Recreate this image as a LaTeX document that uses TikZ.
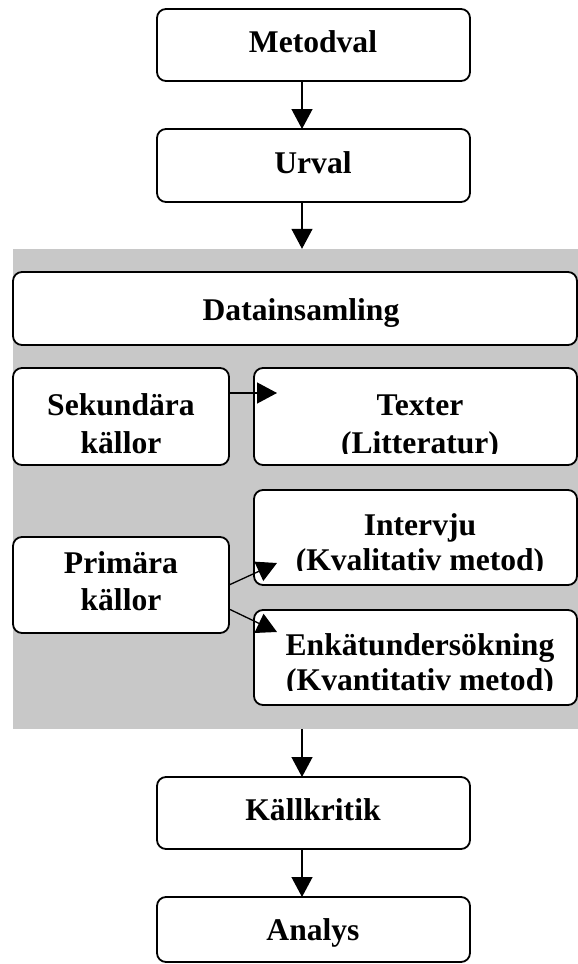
\documentclass[tikz,border=0pt]{standalone}
\usepackage{fontspec}
\setmainfont{Liberation Serif}
\usetikzlibrary{arrows.meta,calc}
\definecolor{bggray}{RGB}{200,200,200}
\tikzset{
  box/.style={draw=black, line width=1.8pt, rounded corners=9pt, fill=white, inner sep=0pt, outer sep=0pt},
  lbl/.style={font=\fontsize{31.6}{36}\selectfont\bfseries, inner sep=0pt, anchor=base},
  arr/.style={line width=1.3pt, -{Triangle[length=20pt,width=21pt]}},
}
\begin{document}
\begin{tikzpicture}[x=1pt,y=-1pt]
\useasboundingbox (0,0) rectangle (578,964);
\fill[white] (0,0) rectangle (578,964);
% grey background
\node[fill=bggray, draw=none, inner sep=0pt, minimum width=565pt, minimum height=480pt] (bg) at (295.5,489) {};
% boxes
\node[box, minimum width=313pt, minimum height=72pt] (bmet) at (313.5,45) {};
\node[box, minimum width=313pt, minimum height=73pt] (burv) at (313.5,165.5) {};
\node[box, minimum width=564pt, minimum height=73pt] (bdat) at (295,308.5) {};
\node[box, minimum width=216pt, minimum height=97pt] (bsek) at (121,416.5) {};
\node[box, minimum width=323pt, minimum height=97pt] (btex) at (415.5,416.5) {};
\node[box, minimum width=323pt, minimum height=95pt] (bint) at (415.5,537.5) {};
\node[box, minimum width=216pt, minimum height=96pt] (bpri) at (121,585) {};
\node[box, minimum width=323pt, minimum height=95pt] (benk) at (415.5,657.5) {};
\node[box, minimum width=313pt, minimum height=72pt] (bkal) at (313.5,813) {};
\node[box, minimum width=313pt, minimum height=65pt] (bana) at (313.5,929.5) {};
% texts
\node[lbl] (tmet) at (313,52) {Metodval};
\node[lbl] (turv) at (313,173) {Urval};
\node[lbl] (tdat) at (301,320) {Datainsamling};
\node[lbl] (tsek1) at (121,415) {Sekundära};
\node[lbl] (tsek2) at (121,453) {källor};
\node[lbl] (ttex1) at (420,415) {Texter};
\begin{scope}
\clip (254,368) rectangle (577,453);
\node[lbl] (ttex2) at (420,453) {(Litteratur)};
\end{scope}
\node[lbl] (tint1) at (420,535) {Intervju};
\begin{scope}
\clip (254,490) rectangle (577,570);
\node[lbl] (tint2) at (420,570) {(Kvalitativ metod)};
\end{scope}
\node[lbl] (tpri1) at (121,573) {Primära};
\node[lbl] (tpri2) at (121,610) {källor};
\node[lbl] (tenk1) at (420,655) {Enkätundersökning};
\begin{scope}
\clip (254,610) rectangle (577,690);
\node[lbl] (tenk2) at (420,690) {(Kvantitativ metod)};
\end{scope}
\node[lbl] (tkal) at (313,820) {Källkritik};
\node[lbl] (tana) at (313,940) {Analys};
% connectors
\coordinate (ax) at (302,0);
\coordinate (t1) at (277,393);
\coordinate (t2) at (277,563);
\coordinate (s3) at (229,609);
\coordinate (t3) at (277,632);
\draw[arr] (bmet.south -| ax) -- (burv.north -| ax);
\draw[arr] (burv.south -| ax) -- (bg.north -| ax);
\draw[arr] (bg.south -| ax) -- (bkal.north -| ax);
\draw[arr] (bkal.south -| ax) -- (bana.north -| ax);
\draw[arr] (bsek.east |- t1) -- (t1);
\draw[arr] (bpri.east) -- (t2);
\draw[arr] (bpri.east |- s3) -- (t3);
\end{tikzpicture}
\end{document}
